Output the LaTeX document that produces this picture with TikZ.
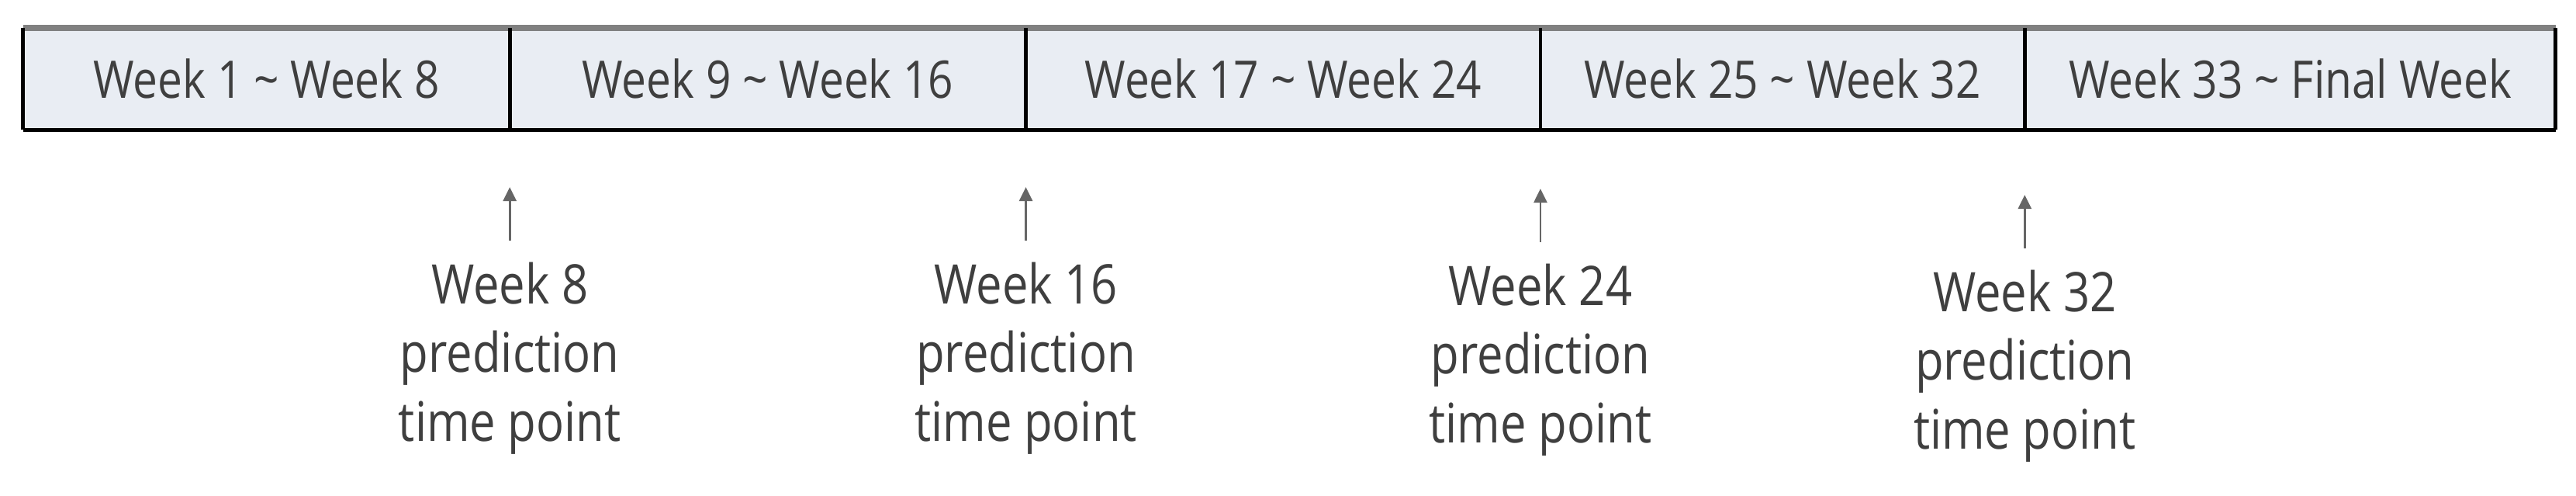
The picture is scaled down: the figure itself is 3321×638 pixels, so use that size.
\documentclass[tikz,border=0pt]{standalone}
\usepackage{fontspec}
\setmainfont{Open Sans}[FakeStretch=0.85]
\usepackage{xcolor}
\usepackage{tikz}
\usetikzlibrary{arrows.meta}
\usetikzlibrary{positioning}
\definecolor{cellfill}{HTML}{E9EDF3}
\definecolor{textgray}{HTML}{3F3F3F}
\tikzstyle{cell} = [rectangle, fill=cellfill, text=textgray, inner sep=0pt,
    outer sep=0pt, minimum height=1.31cm, font=\fontsize{19}{23}\selectfont]
\tikzstyle{point} = [align=center, text=textgray, inner sep=0pt,
    font=\fontsize{20}{25.2}\selectfont]
\tikzstyle{edge} = [draw, line width=1.4pt, black]
\tikzstyle{line} = [draw, -{Triangle[length=0.18cm,width=0.17cm]}, line width=0.8pt,
    gray!80!black, shorten <=0.27cm]

\begin{document}
\begin{tikzpicture}[x=0.01cm, y=-0.01cm]
  \useasboundingbox (0,0) rectangle (3321,638);
  % Place nodes
  \node [cell, minimum width=6.27cm] (w1) at (343.5,101.5) {Week 1 \textasciitilde{} Week 8};
  \node [cell, minimum width=6.65cm, right=0pt of w1] (w2) {Week 9 \textasciitilde{} Week 16};
  \node [cell, minimum width=6.63cm, right=0pt of w2] (w3) {Week 17 \textasciitilde{} Week 24};
  \node [cell, minimum width=6.24cm, right=0pt of w3] (w4) {Week 25 \textasciitilde{} Week 32};
  \node [cell, minimum width=6.84cm, right=0pt of w4] (w5) {Week 33 \textasciitilde{} Final Week};

  \node [point, below=1.70cm of w1.south east] (p8) {Week 8\\prediction\\time point};
  \node [point, below=1.70cm of w2.south east] (p16) {Week 16\\prediction\\time point};
  \node [point, below=1.72cm of w3.south east] (p24) {Week 24\\prediction\\time point};
  \node [point, below=1.80cm of w4.south east] (p32) {Week 32\\prediction\\time point};

  \coordinate [above=0.96cm of p8] (t8);
  \coordinate [above=0.96cm of p16] (t16);
  \coordinate [above=0.96cm of p24] (t24);
  \coordinate [above=0.96cm of p32] (t32);

  % Draw edges
  % top rule is lighter and heavier than the rest
  \path [draw, line width=2.4pt, gray] (w1.north west) -- (w5.north east);
  \path [edge] (w1.south west) -- (w5.south east);
  \path [edge] (w1.north west) -- (w1.south west);
  \path [edge] (w1.north east) -- (w1.south east);
  \path [edge] (w2.north east) -- (w2.south east);
  \path [edge] (w3.north east) -- (w3.south east);
  \path [edge] (w4.north east) -- (w4.south east);
  \path [edge] (w5.north east) -- (w5.south east);

  \path [line] (p8) -- (t8);
  \path [line] (p16) -- (t16);
  \path [line] (p24) -- (t24);
  \path [line] (p32) -- (t32);
\end{tikzpicture}
\end{document}
